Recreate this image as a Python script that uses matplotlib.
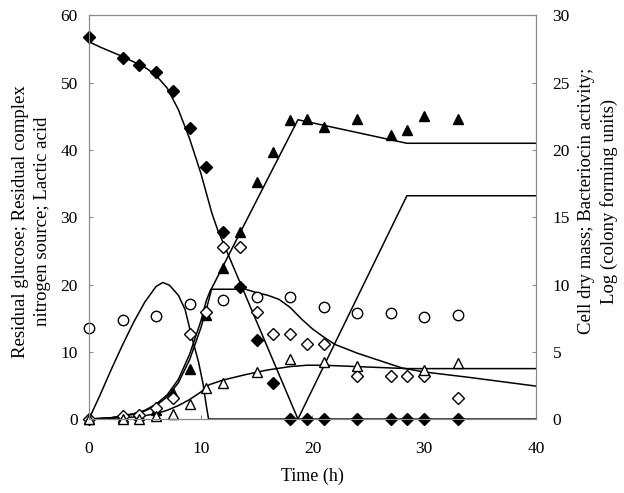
import matplotlib
matplotlib.use("Agg")
import matplotlib.pyplot as plt

plt.rcParams['font.family'] = ['Liberation Serif', 'DejaVu Serif']

# 取样时间 (h)
t_samples = [0, 3, 4.5, 6, 7.5, 9, 10.5, 12, 13.5, 15, 16.5, 18, 19.5, 21, 24, 27, 28.5, 30, 33]

# 左轴: 葡萄糖 (实心菱形), 乳酸 (实心三角)
glucose = [56.8, 53.7, 52.6, 51.6, 48.7, 43.3, 37.4, 27.8, 19.7, 11.7, 5.3, 0, 0, 0, 0, 0, 0, 0, 0]
lactic = [0, 0.3, 0.6, 1.3, 3.8, 7.5, 15.5, 22.4, 27.8, 35.3, 39.7, 44.4, 44.6, 43.4, 44.6, 42.3, 42.9, 45.0, 44.6]

# 右轴: 菌落数 (空心圆), 细菌素活性 (空心菱形), 细胞干重 (空心三角)
t_cfu = [0, 3, 6, 9, 12, 15, 18, 21, 24, 27, 30, 33]
log_cfu = [6.75, 7.4, 7.65, 8.55, 8.85, 9.1, 9.1, 8.3, 7.9, 7.9, 7.55, 7.75]

t_bact = [0, 3, 4.5, 6, 7.5, 9, 10.5, 12, 13.5, 15, 16.5, 18, 19.5, 21, 24, 27, 28.5, 30, 33]
bacteriocin = [0, 0.2, 0.3, 0.85, 1.6, 6.35, 7.95, 12.8, 12.8, 7.95, 6.3, 6.3, 5.6, 5.6, 3.2, 3.2, 3.2, 3.2, 1.6]

t_cdm = [0, 3, 4.5, 6, 7.5, 9, 10.5, 12, 15, 18, 21, 24, 30, 33]
cell_mass = [0, 0, 0, 0.2, 0.4, 1.15, 2.3, 2.7, 3.5, 4.45, 4.25, 3.95, 3.65, 4.2]

# 模型曲线 (左轴单位)
t_glc_model = [0, 1, 2, 3, 4, 5, 6, 7, 8, 9, 10, 10.5, 11, 11.5, 18.7]
glc_model = [56.1, 55.3, 54.6, 53.9, 53.1, 52.3, 51.1, 49.2, 46.0, 41.7, 36.6, 33.6, 30.6, 28.2, 0]

t_rise_model = [18.7, 28.45, 40]
rise_model = [0, 33.2, 33.2]

t_lac_model = [0, 2, 4, 5, 6, 7, 8, 9, 10, 10.5, 11, 18.7, 28.45, 40]
lac_model = [0, 0.2, 0.7, 1.2, 2.0, 3.3, 5.4, 8.8, 13.5, 16.3, 19.5, 44.5, 41.0, 41.0]

t_step_model = [0, 2, 4, 5, 6, 7, 8, 9, 10, 10.5, 10.9, 14, 15, 16, 17, 18, 19, 20, 21, 22, 24, 26, 28, 30, 34, 40]
step_model = [0, 0.2, 0.8, 1.3, 2.2, 3.6, 5.9, 9.6, 14.5, 17.6, 19.3, 19.3, 18.8, 18.4, 17.8, 16.6, 14.9,
              13.4, 12.2, 11.1, 9.8, 8.7, 7.6, 7.0, 6.2, 4.9]

t_hump_model = [0, 1, 2, 3, 4, 5, 6, 6.6, 7.2, 8, 8.6, 9.2, 9.8, 10.2, 10.5, 10.7, 40]
hump_model = [0, 3.6, 7.4, 11.0, 14.4, 17.4, 19.7, 20.3, 19.9, 18.4, 16.3, 12.2, 8.5, 5.3, 2.0, 0, 0]

t_cdm_model = [0, 2, 4, 5, 6, 7, 8, 9, 10, 10.75, 12, 14, 16, 18, 19.5, 21, 28.45, 40]
cdm_model = [0, 0.1, 0.3, 0.5, 0.8, 1.3, 2.0, 2.9, 4.0, 5.1, 5.8, 6.6, 7.3, 7.8, 8.0, 8.0, 7.5, 7.5]

fig = plt.figure(figsize=(6.24, 4.93), dpi=100)
ax = fig.add_axes([0.1426, 0.150, 0.7163, 0.8186])
ax2 = ax.twinx()

lw = 1.1
for tx, vy in [(t_glc_model, glc_model), (t_rise_model, rise_model), (t_lac_model, lac_model),
               (t_step_model, step_model), (t_hump_model, hump_model), (t_cdm_model, cdm_model)]:
    ax.plot(tx, vy, color="black", linewidth=lw, zorder=2)

ax.plot(t_samples, glucose, linestyle="none", marker="D", markersize=5.8,
        color="black", zorder=3, clip_on=False)
ax.plot(t_samples, lactic, linestyle="none", marker="^", markersize=7.5,
        color="black", zorder=3, clip_on=False)

ax2.plot(t_cfu, log_cfu, linestyle="none", marker="o", markersize=7.5,
         markerfacecolor="white", markeredgecolor="black", markeredgewidth=1.0, clip_on=False)
ax2.plot(t_bact, bacteriocin, linestyle="none", marker="D", markersize=5.8,
         markerfacecolor="white", markeredgecolor="black", markeredgewidth=1.0, clip_on=False)
ax2.plot(t_cdm, cell_mass, linestyle="none", marker="^", markersize=7.5,
         markerfacecolor="white", markeredgecolor="black", markeredgewidth=1.0, clip_on=False)

ax.set_xlim(0, 40)
ax.set_ylim(0, 60)
ax2.set_ylim(0, 30)
ax.set_xticks([0, 10, 20, 30, 40])
ax.set_yticks(range(0, 61, 10))
ax2.set_yticks(range(0, 31, 5))

for a in (ax, ax2):
    for s in a.spines.values():
        s.set_color("#8a8a8a")
        s.set_linewidth(0.8)
ax.tick_params(axis="x", direction="in", length=3, color="#8a8a8a", labelsize=12.5, pad=16)
ax.tick_params(axis="y", direction="in", length=3, color="#8a8a8a", labelsize=12.5, pad=8)
ax2.tick_params(axis="y", direction="in", length=3, color="#8a8a8a", labelsize=12.5, pad=12)

ax.set_xlabel("Time (h)", fontsize=13)
ax.xaxis.set_label_coords(0.5, -0.12)
ax.set_ylabel("Residual glucose; Residual complex\nnitrogen source; Lactic acid",
              fontsize=13.5, linespacing=1.4)
ax.yaxis.set_label_coords(-0.085, 0.49)
ax2.set_ylabel("Cell dry mass; Bacteriocin activity;\nLog (colony forming units)",
               fontsize=13.5, linespacing=1.4, rotation=90)
ax2.yaxis.set_label_coords(1.093, 0.54)

plt.savefig("out.png", dpi=100)
